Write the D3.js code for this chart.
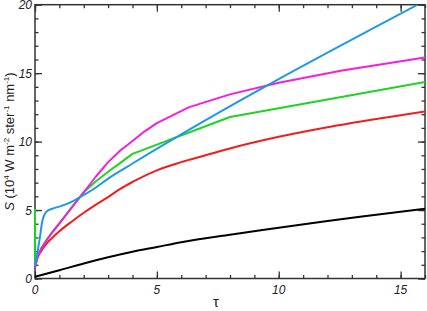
<!DOCTYPE html>
<html lang="en">
<head>
<meta charset="UTF-8">
<title>S vs tau</title>
<script src="https://d3js.org/d3.v7.min.js"></script>
<style>
  body { margin: 0; background: #fff; }
  text { font-family: "Liberation Sans", Arial, sans-serif; }
</style>
</head>
<body>
<script>
// data
var blackTau = [0, 1, 2, 3, 4, 5, 6, 8, 10, 12, 14, 16];
var blackS   = [0.13, 0.6, 1.1, 1.55, 1.95, 2.3, 2.65, 3.2, 3.7, 4.2, 4.65, 5.1];

var redTau = [0, 0.1, 0.25, 0.5, 0.75, 1, 1.5, 2, 2.5, 3, 3.5, 4, 5, 6, 7, 8, 10, 12, 14, 16];
var redS   = [0.8, 1.5, 2.0, 2.6, 3.05, 3.45, 4.15, 4.8, 5.4, 5.95, 6.55, 7.05, 7.9, 8.5, 9.0, 9.5, 10.35, 11.05, 11.65, 12.2];

var greenTau = [0, 0.01, 0.1, 0.25, 0.5, 0.75, 1, 1.5, 2, 2.5, 3, 3.5, 4, 8, 16];
var greenS   = [5.1, 0.9, 1.6, 2.2, 2.9, 3.5, 4.05, 5.2, 6.3, 7.1, 7.8, 8.45, 9.1, 11.8, 14.35];

var magentaTau = [0, 0.1, 0.25, 0.5, 0.75, 1, 1.5, 2, 2.5, 3, 3.5, 4, 4.5, 5, 6.3, 8, 10, 12.6, 16];
var magentaS   = [0.8, 1.55, 2.15, 2.85, 3.45, 4.0, 5.15, 6.3, 7.45, 8.5, 9.35, 10.05, 10.75, 11.35, 12.5, 13.45, 14.3, 15.2, 16.15];

var blueTau = [0, 0.1, 0.2, 0.3, 0.4, 0.5, 0.75, 1, 1.5, 2, 2.5, 3, 4, 15.7];
var blueS   = [0.9, 1.9, 3.0, 4.2, 4.7, 4.93, 5.12, 5.25, 5.6, 6.1, 6.65, 7.3, 8.4, 20];

var xTicks = [0, 5, 10, 15];
var yTicks = [0, 5, 10, 15, 20];

var series = [
  { tau: blackTau, s: blackS, color: "#000000", smooth: true },
  { tau: redTau, s: redS, color: "#f21d1d", smooth: true },
  { tau: greenTau, s: greenS, color: "#1fd41f", smooth: false },
  { tau: magentaTau, s: magentaS, color: "#f51ee0", smooth: false },
  { tau: blueTau, s: blueS, color: "#1c98e8", smooth: true }
];

var width = 427, height = 311;
var pLeft = 35, pRight = 425, pTop = 4.7, pBottom = 278.5;

var svg = d3.select("body").append("svg").attr("width", width).attr("height", height);

var x = d3.scaleLinear().domain([0, 16]).range([pLeft, pRight]);
var y = d3.scaleLinear().domain([0, 20]).range([pBottom, pTop]);

// axes (ticks inward, mirrored on top/right)
var axisColor = "#333";
var major = 7, minor = 3.5;

svg.append("g").attr("transform", "translate(0," + pBottom + ")")
  .call(d3.axisBottom(x).tickValues(d3.range(0, 17)).tickSize(-minor).tickFormat(""));
svg.append("g").attr("transform", "translate(0," + pBottom + ")")
  .call(d3.axisBottom(x).tickValues(xTicks).tickSize(-major).tickFormat(""));
svg.append("g").attr("transform", "translate(0," + pTop + ")")
  .call(d3.axisTop(x).tickValues(d3.range(0, 17)).tickSize(-minor).tickFormat(""));
svg.append("g").attr("transform", "translate(0," + pTop + ")")
  .call(d3.axisTop(x).tickValues(xTicks).tickSize(-major).tickFormat(""));

svg.append("g").attr("transform", "translate(" + pLeft + ",0)")
  .call(d3.axisLeft(y).tickValues(d3.range(0, 21)).tickSize(-minor).tickFormat(""));
svg.append("g").attr("transform", "translate(" + pLeft + ",0)")
  .call(d3.axisLeft(y).tickValues(yTicks).tickSize(-major).tickFormat(""));
svg.append("g").attr("transform", "translate(" + pRight + ",0)")
  .call(d3.axisRight(y).tickValues(d3.range(0, 21)).tickSize(-minor).tickFormat(""));
svg.append("g").attr("transform", "translate(" + pRight + ",0)")
  .call(d3.axisRight(y).tickValues(yTicks).tickSize(-major).tickFormat(""));

svg.selectAll(".domain").remove();
svg.selectAll(".tick line").attr("stroke", axisColor).attr("stroke-width", 1.3);

svg.append("rect")
  .attr("x", pLeft).attr("y", pTop).attr("width", pRight - pLeft).attr("height", pBottom - pTop)
  .attr("fill", "none").attr("stroke", axisColor).attr("stroke-width", 1.5);

// curves drawn over the frame, clipped to the box
svg.append("clipPath").attr("id", "box")
  .append("rect").attr("x", pLeft - 2).attr("y", pTop).attr("width", pRight - pLeft + 2).attr("height", pBottom - pTop + 2);

var g = svg.append("g").attr("clip-path", "url(#box)");
series.forEach(function(sr) {
  var pts = sr.tau.map(function(t, i) { return [t, sr.s[i]]; });
  var line = d3.line()
    .x(function(d) { return x(d[0]); })
    .y(function(d) { return y(d[1]); })
    .curve(sr.smooth ? d3.curveMonotoneX : d3.curveLinear);
  g.append("path")
    .attr("d", line(pts))
    .attr("fill", "none")
    .attr("stroke", sr.color)
    .attr("stroke-width", 2)
    .attr("stroke-linejoin", "round");
});

// tick labels
svg.selectAll(".xlab").data(xTicks).enter().append("text")
  .attr("x", function(d) { return x(d); })
  .attr("y", pBottom + 15)
  .attr("text-anchor", "middle")
  .attr("font-size", 12).attr("font-style", "italic").attr("fill", "#222")
  .text(function(d) { return d; });

svg.selectAll(".ylab").data(yTicks).enter().append("text")
  .attr("x", pLeft - 3)
  .attr("y", function(d) { return y(d) + 4.5; })
  .attr("text-anchor", "end")
  .attr("font-size", 12).attr("font-style", "italic").attr("fill", "#222")
  .text(function(d) { return d; });

// axis titles
svg.append("text")
  .attr("x", 216).attr("y", 307)
  .attr("text-anchor", "middle")
  .attr("font-size", 15).attr("fill", "#222")
  .text("τ");

var yt = svg.append("text")
  .attr("transform", "translate(13.5," + ((pTop + pBottom) / 2) + ") rotate(-90)")
  .attr("text-anchor", "middle")
  .attr("font-size", 13).attr("fill", "#222");
yt.append("tspan").attr("font-style", "italic").text("S");
yt.append("tspan").text(" (10");
yt.append("tspan").attr("font-size", 8).attr("dy", -5).text("4");
yt.append("tspan").attr("dy", 5).text(" W m");
yt.append("tspan").attr("font-size", 8).attr("dy", -5).text("-2");
yt.append("tspan").attr("dy", 5).text(" ster");
yt.append("tspan").attr("font-size", 8).attr("dy", -5).text("-1");
yt.append("tspan").attr("dy", 5).text(" nm");
yt.append("tspan").attr("font-size", 8).attr("dy", -5).text("-1");
yt.append("tspan").attr("dy", 5).text(")");
</script>
</body>
</html>
